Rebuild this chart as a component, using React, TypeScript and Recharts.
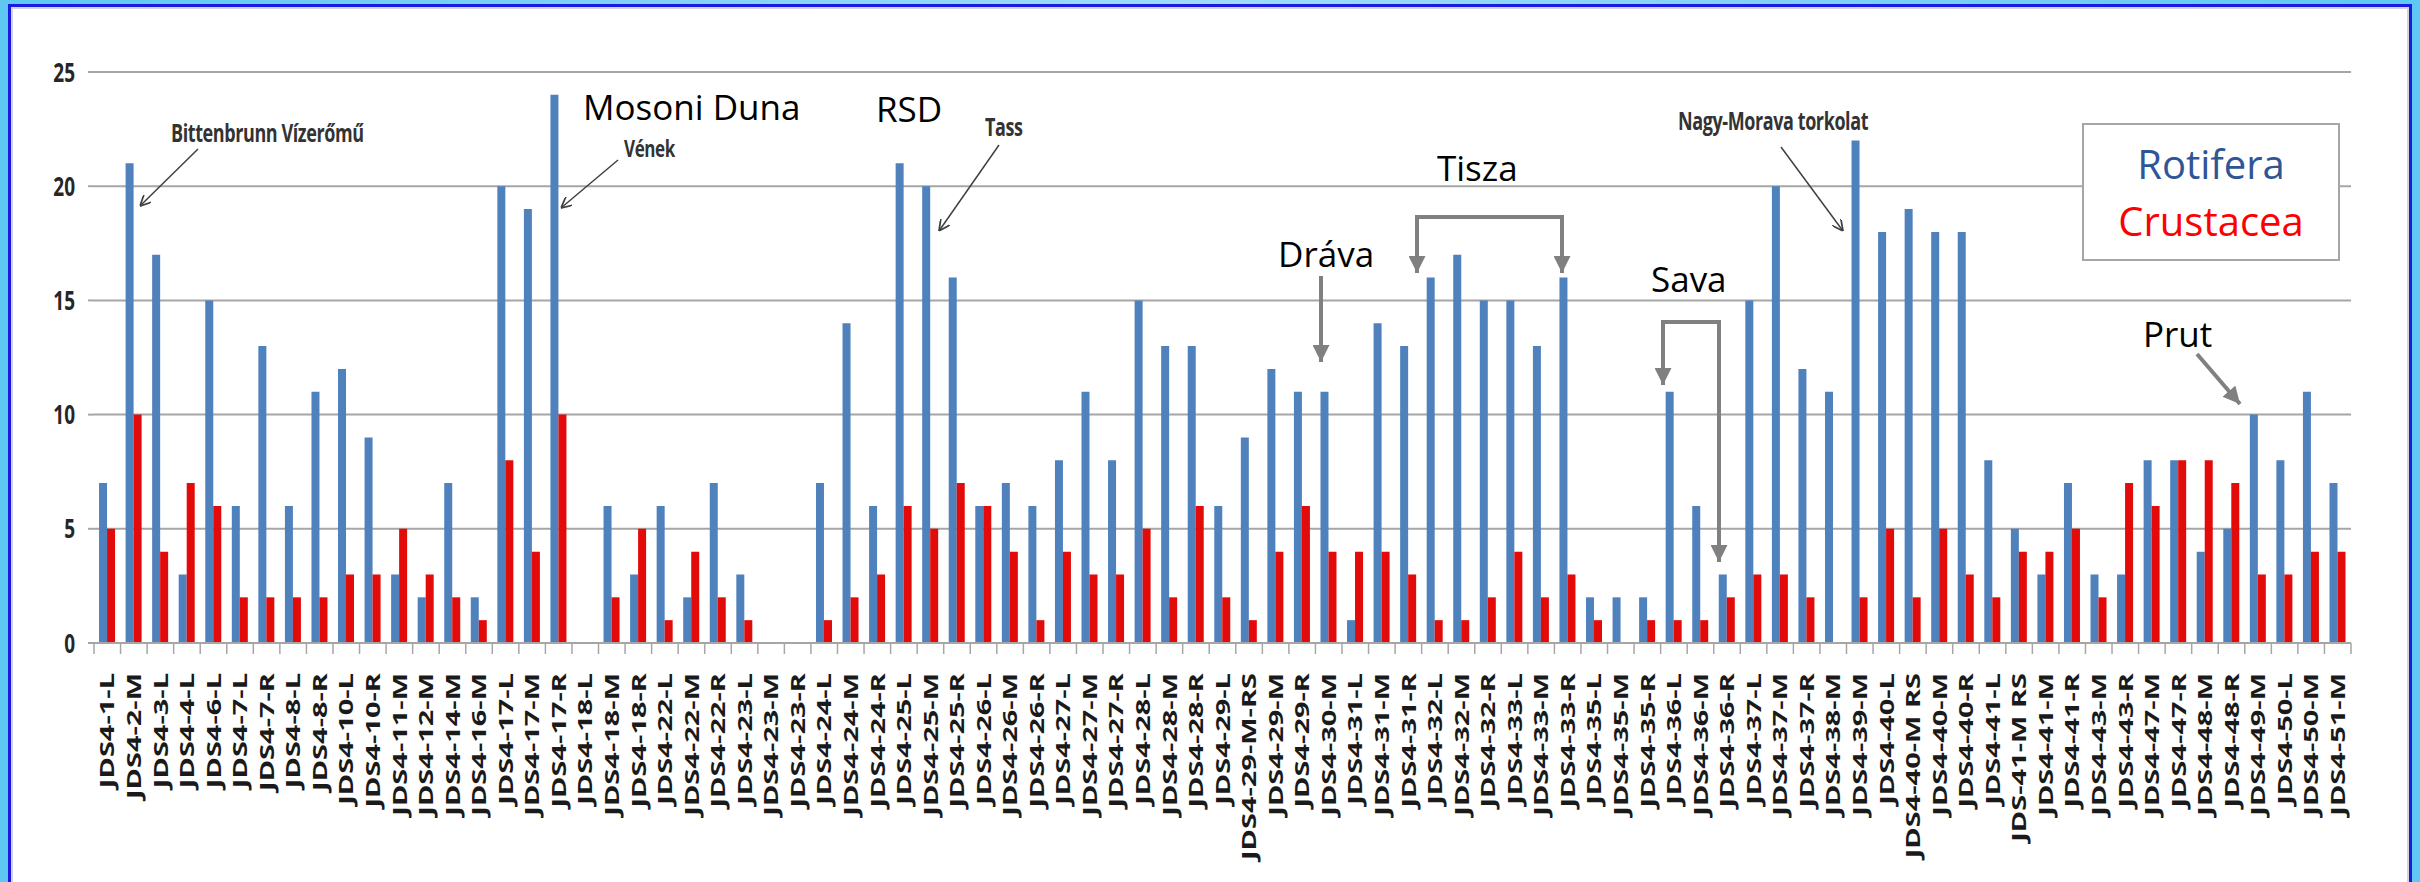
import { BarChart, Bar, XAxis, YAxis, CartesianGrid } from 'recharts'

const CATEGORIES = [
  'JDS4-1-L', 'JDS4-2-M', 'JDS4-3-L', 'JDS4-4-L', 'JDS4-6-L', 'JDS4-7-L', 'JDS4-7-R', 'JDS4-8-L', 'JDS4-8-R',
  'JDS4-10-L', 'JDS4-10-R', 'JDS4-11-M', 'JDS4-12-M', 'JDS4-14-M', 'JDS4-16-M', 'JDS4-17-L', 'JDS4-17-M',
  'JDS4-17-R', 'JDS4-18-L', 'JDS4-18-M', 'JDS4-18-R', 'JDS4-22-L', 'JDS4-22-M', 'JDS4-22-R', 'JDS4-23-L',
  'JDS4-23-M', 'JDS4-23-R', 'JDS4-24-L', 'JDS4-24-M', 'JDS4-24-R', 'JDS4-25-L', 'JDS4-25-M', 'JDS4-25-R',
  'JDS4-26-L', 'JDS4-26-M', 'JDS4-26-R', 'JDS4-27-L', 'JDS4-27-M', 'JDS4-27-R', 'JDS4-28-L', 'JDS4-28-M',
  'JDS4-28-R', 'JDS4-29-L', 'JDS4-29-M-RS', 'JDS4-29-M', 'JDS4-29-R', 'JDS4-30-M', 'JDS4-31-L', 'JDS4-31-M',
  'JDS4-31-R', 'JDS4-32-L', 'JDS4-32-M', 'JDS4-32-R', 'JDS4-33-L', 'JDS4-33-M', 'JDS4-33-R', 'JDS4-35-L',
  'JDS4-35-M', 'JDS4-35-R', 'JDS4-36-L', 'JDS4-36-M', 'JDS4-36-R', 'JDS4-37-L', 'JDS4-37-M', 'JDS4-37-R',
  'JDS4-38-M', 'JDS4-39-M', 'JDS4-40-L', 'JDS4-40-M RS', 'JDS4-40-M', 'JDS4-40-R', 'JDS4-41-L', 'JDS-41-M RS',
  'JDS4-41-M', 'JDS4-41-R', 'JDS4-43-M', 'JDS4-43-R', 'JDS4-47-M', 'JDS4-47-R', 'JDS4-48-M', 'JDS4-48-R',
  'JDS4-49-M', 'JDS4-50-L', 'JDS4-50-M', 'JDS4-51-M',
]

const ROTIFERA = [
  7, 21, 17, 3, 15, 6, 13, 6, 11,
  12, 9, 3, 2, 7, 2, 20, 19,
  24, 0, 6, 3, 6, 2, 7, 3,
  0, 0, 7, 14, 6, 21, 20, 16,
  6, 7, 6, 8, 11, 8, 15, 13,
  13, 6, 9, 12, 11, 11, 1, 14,
  13, 16, 17, 15, 15, 13, 16, 2,
  2, 2, 11, 6, 3, 15, 20, 12,
  11, 22, 18, 19, 18, 18, 8, 5,
  3, 7, 3, 3, 8, 8, 4, 5,
  10, 8, 11, 7,
]

const CRUSTACEA = [
  5, 10, 4, 7, 6, 2, 2, 2, 2,
  3, 3, 5, 3, 2, 1, 8, 4,
  10, 0, 2, 5, 1, 4, 2, 1,
  0, 0, 1, 2, 3, 6, 5, 7,
  6, 4, 1, 4, 3, 3, 5, 2,
  6, 2, 1, 4, 6, 4, 4, 4,
  3, 1, 1, 2, 4, 2, 3, 1,
  0, 1, 1, 1, 2, 3, 3, 2,
  0, 2, 5, 2, 5, 3, 2, 4,
  4, 5, 2, 7, 6, 8, 8, 7,
  3, 3, 4, 4,
]

const Y_TICKS = [0, 5, 10, 15, 20, 25]

const BLUE = '#4f81bd'
const RED = '#e30a0a'
const GRID = '#a6a6a6'
const FONT = "'Open Sans', 'DejaVu Sans', sans-serif"

// layout of the page (reference is 2420x882)
const W = 2420
const H = 882
const PLOT_LEFT = 94
const PLOT_RIGHT = 2351
const PLOT_TOP = 72
const PLOT_BOTTOM = 643
const Y_AXIS_W = 60
const BAND = (PLOT_RIGHT - PLOT_LEFT) / CATEGORIES.length

const data = CATEGORIES.map((name, i) => ({
  name,
  rotifera: ROTIFERA[i],
  crustacea: CRUSTACEA[i],
}))

function YTick({ x, y, payload }: any) {
  return (
    <g transform={`translate(${x},${y}) scale(1,1.4)`}>
      <text textAnchor="end" dy="0.36em" fontSize={19} fontWeight={700} fill="#262626" fontFamily={FONT}>
        {payload.value}
      </text>
    </g>
  )
}

function XTick({ x, y, payload, index }: any) {
  const left = x - BAND / 2
  const last = index === CATEGORIES.length - 1
  return (
    <g>
      <line x1={left} x2={left} y1={y} y2={y + 11} stroke={GRID} strokeWidth={1.5} />
      {last && <line x1={x + BAND / 2} x2={x + BAND / 2} y1={y} y2={y + 11} stroke={GRID} strokeWidth={1.5} />}
      <g transform={`translate(${x},${y + 30}) rotate(-90) scale(1.45,1)`}>
        <text textAnchor="end" dy="0.36em" fontSize={20} fontWeight={700} fill="#1a1a1a" fontFamily={FONT}>
          {payload.value}
        </text>
      </g>
    </g>
  )
}

function Stretched({ x, y, text, size = 18, sy = 1.4 }: { x: number; y: number; text: string; size?: number; sy?: number }) {
  return (
    <g transform={`translate(${x},${y}) scale(1,${sy})`}>
      <text fontSize={size} fontWeight={700} fill="#333333" fontFamily={FONT} letterSpacing={-0.4}>
        {text}
      </text>
    </g>
  )
}

function Big({ x, y, text, fill = '#000000', size = 35, anchor = 'start' }: any) {
  return (
    <text x={x} y={y} fontSize={size} fill={fill} fontFamily={FONT} textAnchor={anchor}>
      {text}
    </text>
  )
}

function Annotations() {
  const thin = { stroke: '#404040', strokeWidth: 1.5, fill: 'none', markerEnd: 'url(#headThin)' }
  const thick = { stroke: '#808080', strokeWidth: 4, fill: 'none' }
  return (
    <svg width={W} height={H} style={{ position: 'absolute', left: 0, top: 0, pointerEvents: 'none' }}>
      <defs>
        <marker id="headThin" viewBox="0 0 10 10" refX="10" refY="5" markerWidth="11" markerHeight="11"
          markerUnits="userSpaceOnUse" orient="auto">
          <path d="M0,0 L10,5 L0,10" fill="none" stroke="#404040" strokeWidth="1.6" />
        </marker>
        <marker id="headGray" viewBox="0 0 10 10" refX="10" refY="5" markerWidth="17" markerHeight="17"
          markerUnits="userSpaceOnUse" orient="auto-start-reverse">
          <path d="M0,0 L10,5 L0,10 z" fill="#808080" />
        </marker>
      </defs>

      {/* small labels that belong to the original chart */}
      <Stretched x={171} y={142} text="Bittenbrunn Vízerőmű" />
      <line x1={198} y1={149} x2={140} y2={206} {...thin} />
      <Stretched x={624} y={157} text="Vének" size={17} />
      <line x1={618} y1={160} x2={561} y2={208} {...thin} />
      <Stretched x={985} y={136} text="Tass" />
      <line x1={999} y1={145} x2={939} y2={231} {...thin} />
      <Stretched x={1678} y={130} text="Nagy-Morava torkolat" />
      <line x1={1781} y1={147} x2={1843} y2={231} {...thin} />

      {/* river labels */}
      <Big x={583} y={120} text="Mosoni Duna" />
      <Big x={876} y={122} text="RSD" />
      <Big x={1278} y={267} text="Dráva" />
      <line x1={1321} y1={276} x2={1321} y2={362} {...thick} markerEnd="url(#headGray)" />
      <Big x={1437} y={181} text="Tisza" />
      <path d="M1417 273 L1417 217 L1562 217 L1562 273" {...thick}
        markerStart="url(#headGray)" markerEnd="url(#headGray)" />
      <Big x={1651} y={292} text="Sava" />
      <path d="M1663 385 L1663 322 L1719 322 L1719 562" {...thick}
        markerStart="url(#headGray)" markerEnd="url(#headGray)" />
      <Big x={2143} y={347} text="Prut" />
      <line x1={2197} y1={354} x2={2240} y2={404} {...thick} markerEnd="url(#headGray)" />

      {/* legend box */}
      <rect x={2083} y={124} width={256} height={136} fill="#ffffff" stroke={GRID} strokeWidth={2} />
      <Big x={2211} y={179} text="Rotifera" fill="#2f5597" size={40} anchor="middle" />
      <Big x={2211} y={236} text="Crustacea" fill="#ff0000" size={40} anchor="middle" />
    </svg>
  )
}

export default function App() {
  return (
    <div style={{ position: 'absolute', left: 0, top: 0, width: W, height: H, overflow: 'hidden',
      background: 'linear-gradient(to right, #5ec8f3, #9fdcf7 50%, #5ec8f3)' }}>
      <div style={{
        position: 'absolute', left: 8, top: 4, width: 2398, height: 880,
        background: '#ffffff', borderTop: '3px solid #1b1be0', borderLeft: '3px solid #1b1be0',
        borderRight: '3px solid #1b1be0', boxShadow: 'inset 0 0 0 2px #d4d4d4',
      }} />
      <div style={{ position: 'absolute', left: 0, top: 0 }}>
        <BarChart
          width={W}
          height={H}
          data={data}
          margin={{ top: PLOT_TOP, right: W - PLOT_RIGHT, left: PLOT_LEFT - Y_AXIS_W, bottom: 9 }}
          barCategoryGap="19%"
          barGap={0}
        >
          <CartesianGrid vertical={false} stroke={GRID} strokeWidth={2} />
          <XAxis
            dataKey="name"
            interval={0}
            height={H - PLOT_BOTTOM - 9}
            tickSize={0}
            tickMargin={0}
            axisLine={{ stroke: GRID, strokeWidth: 2 }}
            tick={<XTick />}
          />
          <YAxis
            width={Y_AXIS_W}
            domain={[0, 25]}
            ticks={Y_TICKS}
            interval={0}
            axisLine={false}
            tickSize={6}
            tickMargin={13}
            tickLine={{ stroke: GRID, strokeWidth: 2 }}
            tick={<YTick />}
          />
          <Bar dataKey="rotifera" fill={BLUE} isAnimationActive={false} />
          <Bar dataKey="crustacea" fill={RED} isAnimationActive={false} />
        </BarChart>
      </div>
      <Annotations />
    </div>
  )
}
